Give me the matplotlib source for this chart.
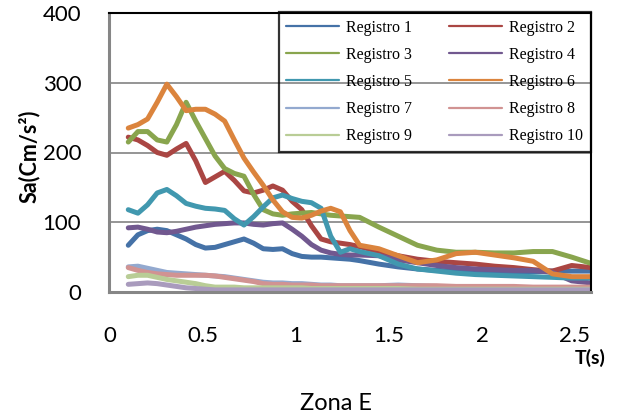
import matplotlib
matplotlib.use('Agg')
import matplotlib.pyplot as plt
import numpy as np

# periodo T(s)
T = [0.1, 0.15, 0.2, 0.25, 0.3, 0.35, 0.4, 0.45, 0.5, 0.55, 0.6, 0.65, 0.7, 0.75, 0.8, 0.85,
     0.9, 0.95, 1.0, 1.05, 1.1, 1.15, 1.2, 1.25, 1.3,
     1.4, 1.5, 1.6, 1.7, 1.8, 1.9, 2.0, 2.1, 2.2, 2.3, 2.4, 2.5]

reg1 = [67, 82, 88, 90, 88, 82, 76, 68, 63, 64, 68, 72, 76, 70, 62, 61, 62, 55, 51, 50, 50, 49, 48, 47, 45,
        40, 36, 33, 31, 30, 29, 29, 29, 29, 30, 30, 30]
reg2 = [222, 218, 210, 200, 196, 205, 213, 188, 157, 165, 173, 160, 145, 142, 146, 152, 146, 130, 118, 95, 76, 72, 70, 68, 65,
        58, 52, 47, 44, 42, 40, 37, 35, 32, 30, 38, 35]
reg3 = [215, 230, 230, 218, 215, 240, 272, 245, 220, 195, 177, 170, 166, 140, 118, 112, 110, 112, 113, 114, 112, 110, 109, 108, 107,
        93, 80, 67, 60, 57, 57, 56, 56, 58, 58, 50, 41]
reg4 = [92, 93, 90, 86, 85, 87, 90, 93, 95, 97, 98, 99, 99, 97, 96, 98, 99, 90, 80, 68, 60, 56, 54, 53, 53,
        52, 46, 42, 38, 35, 33, 32, 31, 31, 28, 16, 13]
reg5 = [118, 113, 125, 142, 147, 138, 127, 123, 120, 119, 117, 105, 96, 108, 122, 135, 139, 134, 130, 128, 120, 80, 57, 62, 58,
        52, 40, 33, 30, 27, 25, 24, 23, 22, 21, 20, 20]
reg6 = [235, 240, 248, 272, 298, 280, 260, 262, 262, 255, 245, 218, 192, 172, 153, 132, 115, 107, 106, 110, 116, 120, 115, 88, 67,
        62, 52, 42, 46, 55, 57, 53, 49, 44, 26, 22, 22]
reg7 = [36, 37, 34, 31, 28, 27, 26, 25, 24, 23, 22, 20, 18, 16, 14, 13, 13, 12, 12, 11, 10, 10, 9, 9, 9,
        9, 10, 9, 8, 7, 7, 6, 6, 5, 5, 5, 5]
reg8 = [35, 31, 28, 26, 25, 24, 24, 24, 24, 23, 21, 19, 17, 15, 12, 11, 11, 10, 10, 10, 9, 9, 9, 9, 9,
        9, 9, 9, 9, 8, 8, 8, 8, 7, 7, 7, 7]
reg9 = [22, 24, 24, 21, 18, 16, 14, 12, 9, 7, 7, 7, 6, 6, 6, 6, 6, 6, 6, 5, 5, 5, 5, 5, 5,
        5, 5, 4, 4, 4, 4, 4, 4, 4, 4, 4, 4]
reg10 = [11, 12, 13, 12, 10, 8, 6, 5, 4, 3, 3, 3, 3, 3, 3, 3, 3, 3, 3, 3, 3, 3, 3, 3, 3,
         3, 3, 3, 3, 3, 3, 3, 3, 3, 3, 3, 3]

series = [reg1, reg2, reg3, reg4, reg5, reg6, reg7, reg8, reg9, reg10]
names = ['Registro %d' % i for i in range(1, 11)]
colors = ['#4572A7', '#AA4643', '#89A54E', '#71588F', '#4198AF', '#DB843D',
          '#93A9CF', '#D19392', '#B9CD96', '#A99BBD']

yticks = [0, 100, 200, 300, 400]
xticks = [0, 0.5, 1, 1.5, 2, 2.5]
xticklabels = ['0', '0.5', '1', '1.5', '2', '2.5']

W, H = 622, 420
fig = plt.figure(figsize=(W / 100, H / 100), dpi=100)
ax = fig.add_axes([109 / W, 1 - 292 / H, (591 - 109) / W, (292 - 13) / H])

lines = []
for s, n, c in zip(series, names, colors):
    l, = ax.plot(T, s, color=c, lw=3.6, label=n, solid_capstyle='round', solid_joinstyle='round')
    lines.append(l)

ax.set_xlim(0, 2.5)
ax.set_ylim(0, 400)
ax.set_xticks([])
ax.set_yticks(yticks)
ax.set_yticklabels([str(v) for v in yticks], fontsize=16, family='Lato')
ax.tick_params(axis='y', length=0, pad=20)
ax.grid(axis='y', color='#8c8c8c', lw=1.3)
ax.set_axisbelow(True)
for side in ['left', 'bottom']:
    ax.spines[side].set_color('#868686')
    ax.spines[side].set_linewidth(2.2)
for side in ['top', 'right']:
    ax.spines[side].set_color('black')
    ax.spines[side].set_linewidth(1.5)

# leyenda por filas (1 2 / 3 4 / ...)
order = [0, 2, 4, 6, 8, 1, 3, 5, 7, 9]
leg = ax.legend([lines[i] for i in order], [names[i] for i in order],
                ncol=2, loc='upper right', bbox_to_anchor=(1.0, 1.005), borderaxespad=0,
                prop={'family': 'Liberation Serif', 'size': 11.5}, frameon=True, fancybox=False,
                handlelength=3.3, handletextpad=0.45, columnspacing=2.3, labelspacing=0.7,
                borderpad=0.5)
leg.get_frame().set_facecolor('none')
leg.get_frame().set_edgecolor('black')
leg.get_frame().set_linewidth(1.6)
for l in leg.get_lines():
    l.set_linewidth(1.6)

# eje de etiquetas T
ax2 = fig.add_axes([110 / W, 1 - 326 / H, (575 - 110) / W, 0.0001])
ax2.set_xlim(0, 2.5)
ax2.set_xticks(xticks)
ax2.set_xticklabels(xticklabels, fontsize=16, family='Lato')
ax2.tick_params(axis='x', length=0, pad=0)
ax2.set_yticks([])
for sp in ax2.spines.values():
    sp.set_visible(False)
ax2.patch.set_alpha(0)

fig.text(29 / W, 1 - 156 / H, 'Sa(Cm/s²)', rotation=90, ha='center', va='center',
         fontsize=15.5, fontweight='bold', family='Lato')
fig.text(590 / W, 1 - 358 / H, 'T(s)', ha='center', va='center',
         fontsize=14, fontweight='bold', family='Lato')
fig.text(336 / W, 1 - 404 / H, 'Zona E', ha='center', va='center', fontsize=17, family='Lato')

fig.savefig('out.png', dpi=100)
